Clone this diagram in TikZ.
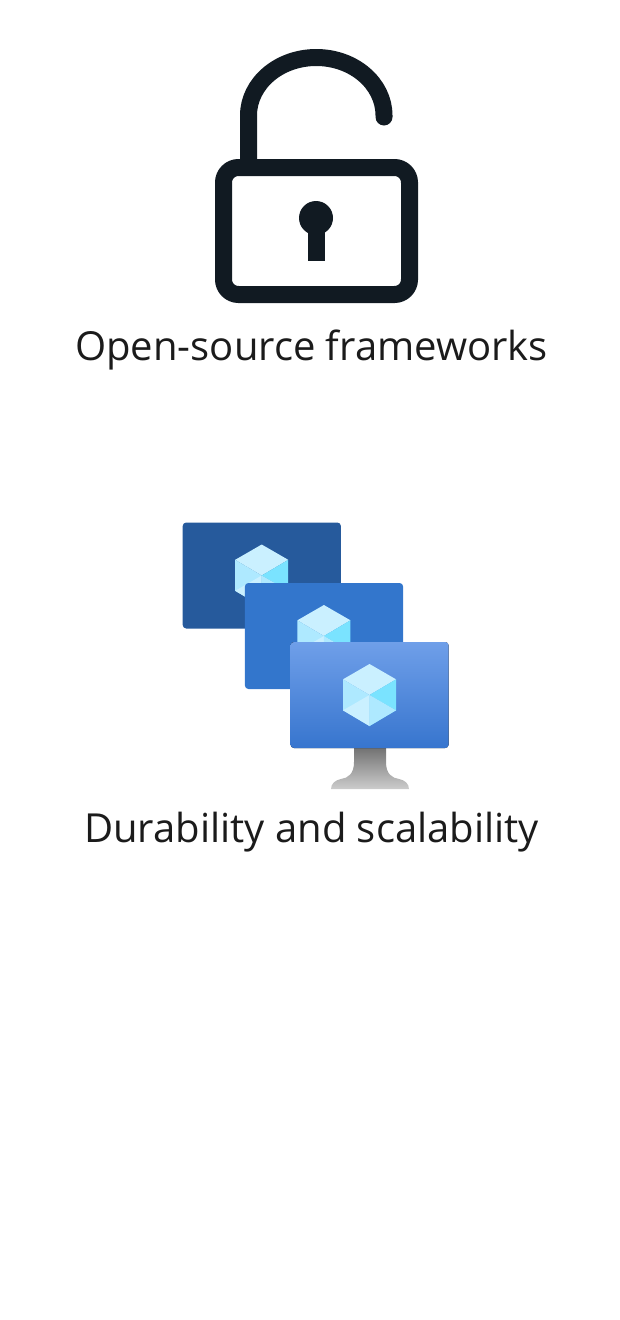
\documentclass[tikz,border=0pt]{standalone}
\usepackage{fontspec}
\setmainfont{Open Sans}
\definecolor{lockink}{HTML}{111A22}
\definecolor{labelink}{HTML}{1B1B1B}
\definecolor{backscreen}{HTML}{265A9C}
\definecolor{midscreen}{HTML}{3376CC}
\definecolor{screentop}{HTML}{6F9FE9}
\definecolor{screenbottom}{HTML}{3775CE}
\definecolor{cubepale}{HTML}{CAF0FF}
\definecolor{cubemid}{HTML}{AEE9FF}
\definecolor{cubedeep}{HTML}{7AE3FF}
\tikzstyle{label}=[text=labelink,font=\fontsize{40}{48}\selectfont,inner sep=0pt]
\tikzstyle{lockline}=[draw=lockink,line width=17pt]
\tikzstyle{screen}=[rounded corners=3.5pt]
\begin{document}
\begin{tikzpicture}[x=1pt,y=-1pt]
    \useasboundingbox (0,0) rectangle (620,1320);
    % First we draw the open lock
    \draw[lockline,line cap=round] (248.5,165) -- (248.5,115.5)
        arc[start angle=180,end angle=360,x radius=67.75,y radius=58] -- (384,117);
    \draw[lockline,rounded corners=15pt] (223.5,167.5) rectangle (409.5,294.5);
    \fill[lockink] (316,218) circle (17);
    \fill[lockink] (307.7,225) rectangle (325,261);
    \node[label] (locktext) at (311.5,350) {Open-source frameworks};
    % Stand of the front monitor
    \shade[top color=black!55,bottom color=black!20]
        (354,748) -- (354,762) .. controls (354,774) and (348,778) .. (341,779)
        .. controls (335,780) and (331,784) .. (331,789) -- (409,789)
        .. controls (409,784) and (405,780) .. (399,779)
        .. controls (392,778) and (386,774) .. (386,762) -- (386,748) -- cycle;
    % Then the three monitors, back to front, each with its cube
    \foreach \dx/\dy/\layer in {-107.8/-119.5/0, -45.6/-59/1, 0/0/2} {
        \begin{scope}[shift={(\dx,\dy)}]
            \ifcase\layer
                \fill[screen,backscreen] (290.5,642) rectangle (448.7,748);
            \or
                \fill[screen,midscreen] (290.5,642) rectangle (448.7,748);
            \or
                \fill[screen,top color=screentop,bottom color=screenbottom,middle color=screentop!50!screenbottom]
                    (290.5,642) rectangle (448.7,748);
            \fi
            \fill[cubepale] (369.5,664) -- (396,679.3) -- (369.5,695) -- (343,679.3) -- cycle;
            \fill[cubemid] (343,679.3) -- (369.5,695) -- (369.5,726) -- (343,710.3) -- cycle;
            \fill[cubedeep] (396,679.3) -- (369.5,695) -- (396,710.3) -- cycle;
            \fill[cubedeep] (369.5,695) -- (369.5,726) -- (396,710.3) -- cycle;
            \fill[cubepale] (343,710.3) -- (369.5,695) -- (369.5,726) -- cycle;
            \fill[cubemid] (369.5,695) -- (396,710.3) -- (369.5,726) -- cycle;
        \end{scope}
    }
    \node[label] (monitortext) at (311.5,832) {Durability and scalability};
\end{tikzpicture}
\end{document}
